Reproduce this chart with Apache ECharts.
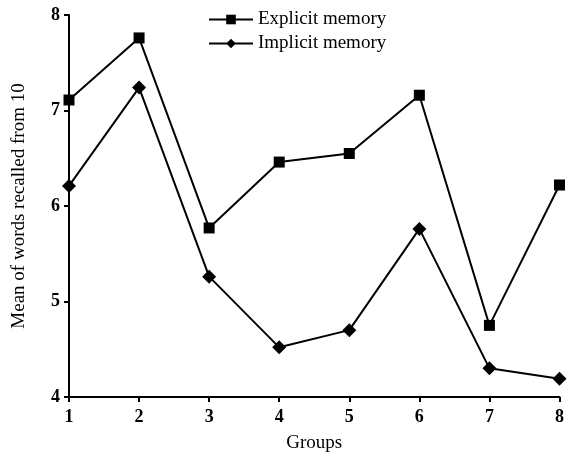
<!doctype html>
<html>
<head>
<meta charset="utf-8">
<title>Mean of words recalled</title>
<script src="https://cdn.jsdelivr.net/npm/echarts@6/dist/echarts.min.js"></script>
<style>
  html, body { margin: 0; padding: 0; background: #fff; }
  #chart { width: 567px; height: 458px; }
</style>
</head>
<body>
<div id="chart"></div>
<script type="text/javascript">
// data
var groups = [1, 2, 3, 4, 5, 6, 7, 8];
var explicitMemory = [7.11, 7.76, 5.77, 6.46, 6.55, 7.16, 4.75, 6.22];
var implicitMemory = [6.21, 7.24, 5.26, 4.52, 4.70, 5.76, 4.30, 4.19];
var yTicks = [4, 5, 6, 7, 8];

function pairs(vals) {
    return groups.map(function (g, i) { return [g, vals[i]]; });
}

var serif = '"Liberation Serif", "DejaVu Serif", serif';
var myChart = echarts.init(document.getElementById('chart'));
var option = {
    animation: false,
    grid: { left: 69, right: 6, top: 15, bottom: 59, containLabel: false },
    legend: {
        orient: 'vertical',
        left: 203,
        top: 5,
        itemWidth: 44,
        itemHeight: 12,
        itemGap: 5,
        textStyle: { fontFamily: serif, fontSize: 19, color: '#000' },
        data: ['Explicit memory', 'Implicit memory']
    },
    xAxis: {
        type: 'value',
        min: 1, max: 8, interval: 1,
        name: 'Groups',
        nameLocation: 'middle',
        nameGap: 37,
        nameTextStyle: { fontFamily: serif, fontSize: 19, color: '#000' },
        axisLine: { lineStyle: { color: '#000', width: 2 } },
        axisTick: { show: true, length: 5, lineStyle: { color: '#000', width: 2 } },
        axisLabel: { fontFamily: serif, fontSize: 18, fontWeight: 'bold', color: '#000', margin: 11 },
        splitLine: { show: false }
    },
    yAxis: {
        type: 'value',
        min: 4, max: 8, interval: 1,
        name: 'Mean of words recalled from 10',
        nameLocation: 'middle',
        nameGap: 40,
        nameRotate: 90,
        nameTextStyle: { fontFamily: serif, fontSize: 19, color: '#000' },
        axisLine: { show: true, lineStyle: { color: '#000', width: 2 } },
        axisTick: { show: true, length: 5, lineStyle: { color: '#000', width: 2 } },
        axisLabel: {
            fontFamily: serif, fontSize: 18, fontWeight: 'bold', color: '#000', margin: 9,
            formatter: function (v) { return yTicks.indexOf(v) >= 0 ? String(v) : ''; }
        },
        splitLine: { show: false }
    },
    series: [
        {
            name: 'Explicit memory',
            type: 'line',
            data: pairs(explicitMemory),
            symbol: 'rect',
            symbolSize: 11,
            lineStyle: { color: '#000', width: 2 },
            itemStyle: { color: '#000' }
        },
        {
            name: 'Implicit memory',
            type: 'line',
            data: pairs(implicitMemory),
            symbol: 'diamond',
            symbolSize: 14,
            lineStyle: { color: '#000', width: 2 },
            itemStyle: { color: '#000' }
        }
    ]
};
myChart.setOption(option);
</script>
</body>
</html>
